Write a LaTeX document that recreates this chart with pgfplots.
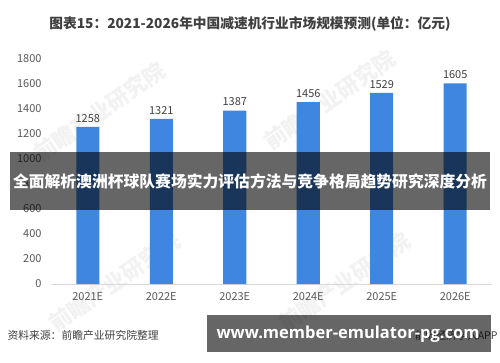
\documentclass[border=0pt]{standalone}
\usepackage{pgfplots}
\pgfplotsset{compat=1.18}
\usepackage{fontspec}
\setmainfont{Noto Sans CJK SC}
\newfontfamily\cjk{Noto Sans CJK SC}
\newfontfamily\urlfont{Open Sans}
\definecolor{barblue}{HTML}{3F86E0}
\definecolor{ticktext}{HTML}{595959}
\definecolor{labtext}{HTML}{404040}
\definecolor{axline}{HTML}{D9D9D9}
\begin{document}
\begin{tikzpicture}[x=1pt,y=1pt]
\useasboundingbox (0,0) rectangle (500,362);
\fill[white] (0,0) rectangle (500,362);
% watermarks
\foreach \px/\py in {100/250,330/262,115/80,345/80}{
  \node[rotate=35,text=black!5,font=\cjk\bfseries\fontsize{22}{22}\selectfont] at (\px,\py) {前瞻产业研究院};
}
\node[font=\cjk\bfseries\fontsize{13.7}{15}\selectfont,text=labtext] at (250,338) {图表15：2021-2026年中国减速机行业市场规模预测(单位：亿元)};
\begin{axis}[
  at={(51pt,78pt)}, anchor=south west,
  scale only axis, width=441pt, height=225pt,
  xmin=-0.5, xmax=5.5, ymin=0, ymax=1800,
  ytick={0,200,...,1800},
  yticklabels={},
  xtick=data,
  xticklabels={2021E,2022E,2023E,2024E,2025E,2026E},
  axis y line=none,
  axis x line*=bottom,
  x axis line style={axline,line width=1pt},
  major tick length=0pt,
  ybar, bar width=23pt,
  /pgf/number format/assume math mode=true,
  /pgf/number format/1000 sep={},
  ticklabel style={font=\cjk\fontsize{11}{12}\selectfont,text=ticktext},
  xticklabel style={yshift=-5pt},
  nodes near coords,
  nodes near coords style={font=\cjk\fontsize{11}{12}\selectfont,text=labtext,yshift=1pt},
  clip=false,
]
\addplot[fill=barblue,draw=none] coordinates {(0,1258) (1,1321) (2,1387) (3,1456) (4,1529) (5,1605)};
\end{axis}
\begin{axis}[
  at={(51pt,78pt)}, anchor=south west,
  scale only axis, width=441pt, height=225pt,
  xmin=-0.5, xmax=5.5, ymin=0, ymax=1800,
  ytick={0,200,...,1800}, xtick=\empty,
  axis x line=none, axis y line*=left, y axis line style={draw=none},
  major tick length=0pt,
  /pgf/number format/assume math mode=true,
  /pgf/number format/1000 sep={},
  yticklabel style={font=\cjk\fontsize{11}{12}\selectfont,text=ticktext,xshift=-6pt},
]
\addplot[draw=none] coordinates {(0,0)};
\end{axis}
% overlay banner
\fill[black,opacity=0.6] (10,152) rectangle (490,210);
\node[font=\cjk\bfseries\fontsize{15.8}{17}\selectfont,text=white] at (250,181) {全面解析澳洲杯球队赛场实力评估方法与竞争格局趋势研究深度分析};
% footer
\node[anchor=west,font=\cjk\fontsize{10.8}{12}\selectfont,text=labtext] at (4,27) {资料来源：前瞻产业研究院整理};
\node[anchor=east,font=\cjk\fontsize{10.5}{12}\selectfont,text=labtext] at (501,27) {前瞻经济学人APP};
\fill[black,opacity=0.6] (207,10) rectangle (491,47);
\node[font=\urlfont\bfseries\fontsize{16.5}{18}\selectfont,text=white] at (348,28) {www.member-emulator-pg.com};
\end{tikzpicture}
\end{document}
